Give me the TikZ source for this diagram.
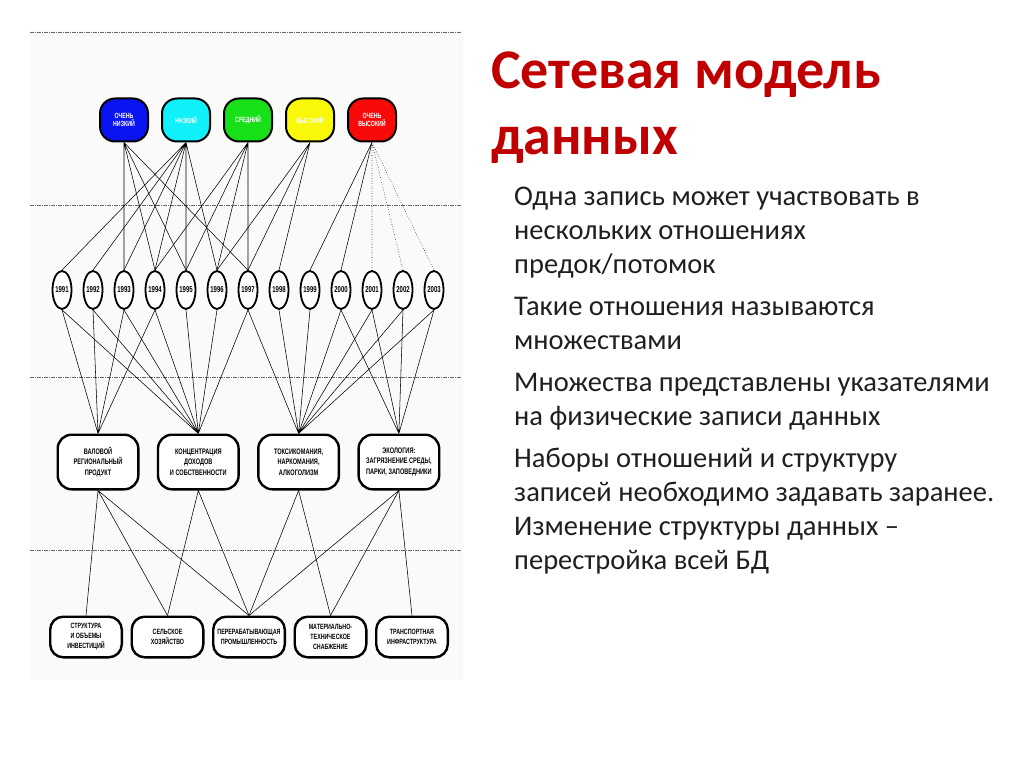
\documentclass[tikz,border=0pt]{standalone}
\usepackage{fontspec}
\setmainfont{Carlito}
\newfontfamily\dgfont{Liberation Sans}[FakeStretch=0.7]
\usepackage{xcolor}
\usetikzlibrary{positioning,shapes.geometric}
\definecolor{lvBlue}{HTML}{0A14F0}
\definecolor{lvCyan}{HTML}{10F0F8}
\definecolor{lvGreen}{HTML}{18E018}
\definecolor{lvYellow}{HTML}{F8F808}
\definecolor{lvRed}{HTML}{F80A0A}
\definecolor{ttlRed}{HTML}{C00000}
\definecolor{panelBg}{HTML}{FAFAF8}

\begin{document}
\begin{tikzpicture}[
  x=1pt, y=-1pt, on grid,
  lvl/.style={draw=black, line width=2pt, fill=#1, rounded corners=15pt,
    minimum width=48pt, minimum height=43pt, inner sep=0pt, text=white,
    align=center, font=\dgfont\bfseries\fontsize{7.5}{8.5}\selectfont},
  yr/.style={ellipse, draw=black, line width=1.8pt, fill=white,
    minimum width=19pt, minimum height=38pt, inner sep=0pt,
    font=\dgfont\bfseries\fontsize{8.6}{9}\selectfont},
  ind/.style={draw=black, line width=2.4pt, fill=white, rounded corners=14pt,
    minimum width=80.6pt, minimum height=54.6pt, inner sep=1pt, align=center,
    font=\dgfont\bfseries\fontsize{8}{10.5}\selectfont},
  sec/.style={draw=black, line width=2.4pt, fill=white, rounded corners=13pt,
    minimum width=71.6pt, minimum height=40.6pt, inner sep=1pt, align=center,
    font=\dgfont\bfseries\fontsize{7.6}{10}\selectfont},
  link/.style={black, line width=0.55pt},
  dlink/.style={link, dotted},
  divider/.style={black!60, line width=0.7pt, dash pattern=on 4pt off 1pt on 1pt off 1pt}
]
\useasboundingbox (0,0) rectangle (1024,767);
\fill[panelBg] (30,30) rectangle (463,680);
% separators of the levels
\draw[divider] (30,32) -- (462,32);
\draw[divider] (30,205) -- (462,205);
\draw[divider] (30,377) -- (462,377);
\draw[divider] (30,550) -- (462,550);

% income levels
\node[lvl=lvBlue] (vlow) at (124,120) {ОЧЕНЬ\\НИЗКИЙ};
\node[lvl=lvCyan, right=62pt of vlow] (low) {НИЗКИЙ};
\node[lvl=lvGreen, right=62pt of low] (mid) {СРЕДНИЙ};
\node[lvl=lvYellow, right=62pt of mid] (high) {ВЫСОКИЙ};
\node[lvl=lvRed, right=62pt of high] (vhigh) {ОЧЕНЬ\\ВЫСОКИЙ};

% years
\node[yr] (y91) at (62,290) {1991};
\node[yr, right=31pt of y91] (y92) {1992};
\node[yr, right=31pt of y92] (y93) {1993};
\node[yr, right=31pt of y93] (y94) {1994};
\node[yr, right=31pt of y94] (y95) {1995};
\node[yr, right=31pt of y95] (y96) {1996};
\node[yr, right=31pt of y96] (y97) {1997};
\node[yr, right=31pt of y97] (y98) {1998};
\node[yr, right=31pt of y98] (y99) {1999};
\node[yr, right=31pt of y99] (y00) {2000};
\node[yr, right=31pt of y00] (y01) {2001};
\node[yr, right=31pt of y01] (y02) {2002};
\node[yr, right=31pt of y02] (y03) {2003};

% indicators
\node[ind] (grp) at (98,462) {ВАЛОВОЙ\\РЕГИОНАЛЬНЫЙ\\ПРОДУКТ};
\node[ind, right=100.3pt of grp] (inc) {КОНЦЕНТРАЦИЯ\\ДОХОДОВ\\И СОБСТВЕННОСТИ};
\node[ind, right=100.3pt of inc] (tox) {ТОКСИКОМАНИЯ,\\НАРКОМАНИЯ,\\АЛКОГОЛИЗМ};
\node[ind, right=100.3pt of tox] (eco) {ЭКОЛОГИЯ:\\ЗАГРЯЗНЕНИЕ СРЕДЫ,\\ПАРКИ, ЗАПОВЕДНИКИ};

% sectors
\node[sec] (inv) at (86,637) {СТРУКТУРА\\И ОБЪЕМЫ\\ИНВЕСТИЦИЙ};
\node[sec, right=81.5pt of inv] (agr) {СЕЛЬСКОЕ\\ХОЗЯЙСТВО};
\node[sec, right=81.5pt of agr] (ind) {ПЕРЕРАБАТЫВАЮЩАЯ\\ПРОМЫШЛЕННОСТЬ};
\node[sec, right=81.5pt of ind] (sup) {МАТЕРИАЛЬНО-\\ТЕХНИЧЕСКОЕ\\СНАБЖЕНИЕ};
\node[sec, right=81.5pt of sup] (trn) {ТРАНСПОРТНАЯ\\ИНФРАСТРУКТУРА};

% levels -> years
\draw[link] (vlow.south) -- (y93.north) (vlow.south) -- (y94.north)
  (vlow.south) -- (y95.north) (vlow.south) -- (y97.north);
\draw[link] (low.south) -- (y91.north) (low.south) -- (y92.north)
  (low.south) -- (y93.north) (low.south) -- (y94.north)
  (low.south) -- (y95.north) (low.south) -- (y96.north);
\draw[link] (mid.south) -- (y94.north) (mid.south) -- (y95.north)
  (mid.south) -- (y96.north) (mid.south) -- (y97.north);
\draw[link] (high.south) -- (y96.north) (high.south) -- (y97.north)
  (high.south) -- (y98.north);
\draw[link] (vhigh.south) -- (y99.north) (vhigh.south) -- (y00.north);
\draw[dlink] (vhigh.south) -- (y01.north) (vhigh.south) -- (y02.north)
  (vhigh.south) -- (y03.north);

% years -> indicators
\draw[link] (y91.south) -- (grp.north) (y92.south) -- (grp.north)
  (y93.south) -- (grp.north) (y94.south) -- (grp.north);
\draw[link] (y91.south) -- (inc.north) (y92.south) -- (inc.north)
  (y93.south) -- (inc.north) (y94.south) -- (inc.north)
  (y95.south) -- (inc.north) (y96.south) -- (inc.north)
  (y97.south) -- (inc.north);
\draw[link] (y97.south) -- (tox.north) (y98.south) -- (tox.north)
  (y99.south) -- (tox.north) (y00.south) -- (tox.north)
  (y01.south) -- (tox.north) (y02.south) -- (tox.north)
  (y03.south) -- (tox.north);
\draw[link] (y00.south) -- (eco.north) (y01.south) -- (eco.north)
  (y02.south) -- (eco.north) (y03.south) -- (eco.north);

% indicators -> sectors
\draw[link] (grp.south) -- (inv.north) (grp.south) -- (agr.north)
  (grp.south) -- (ind.north);
\draw[link] (inc.south) -- (agr.north) (inc.south) -- (ind.north);
\draw[link] (tox.south) -- (ind.north) (tox.south) -- (sup.north);
\draw[link] (eco.south) -- (ind.north) (eco.south) -- (sup.north)
  (eco.south) -- (trn.north);

% slide text
\node[anchor=north west, inner sep=0pt, align=left, text=ttlRed,
  font=\bfseries\fontsize{56}{66}\selectfont] (title) at (491,52)
  {Сетевая модель\\данных};
\node[anchor=north west, inner sep=0pt, align=left, text=black!88,
  font=\fontsize{28.5}{34}\selectfont] (body) at (514,187)
  {Одна запись может участвовать в\\
   нескольких отношениях\\
   предок/потомок\\[8pt]
   Такие  отношения называются\\
   множествами\\[8pt]
   Множества представлены указателями\\
   на физические записи  данных\\[8pt]
   Наборы отношений и структуру\\
   записей необходимо задавать заранее.\\
   Изменение структуры данных –\\
   перестройка всей БД};
\end{tikzpicture}
\end{document}
